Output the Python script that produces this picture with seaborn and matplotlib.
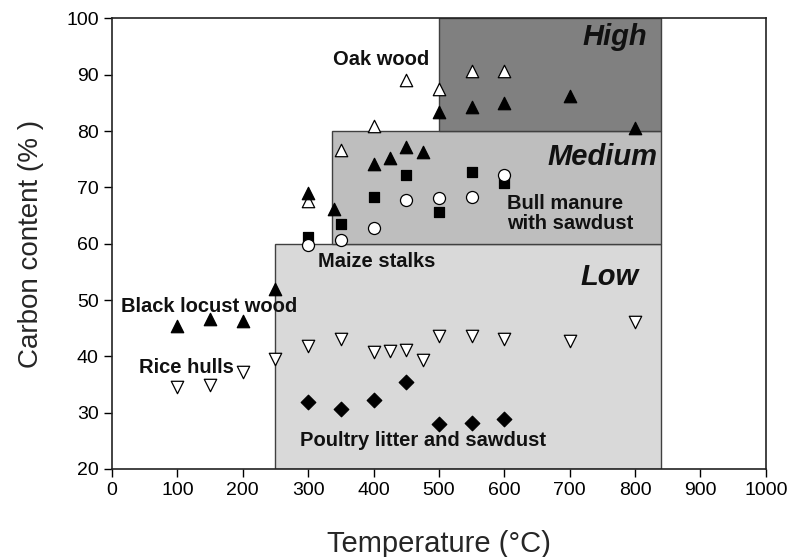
import pandas as pd
import seaborn as sns
import matplotlib.pyplot as plt
from matplotlib.patches import Rectangle

# oak wood (open up-triangles)
oak_t = [300, 350, 400, 450, 500, 550, 600]
oak_c = [67.5, 76.6, 80.9, 89.0, 87.4, 90.6, 90.6]

# black locust wood (filled up-triangles)
locust_t = [100, 150, 200, 250, 300, 340, 400, 425, 450, 475, 500, 550, 600, 700, 800]
locust_c = [45.4, 46.7, 46.3, 51.9, 69.0, 66.2, 74.2, 75.3, 77.2, 76.3, 83.4, 84.2, 85.0, 86.2, 80.5]

# bull manure with sawdust (filled squares)
bull_t = [300, 350, 400, 450, 500, 550, 600]
bull_c = [61.1, 63.5, 68.3, 72.2, 65.6, 72.8, 70.8]

# maize stalks (open circles)
maize_t = [300, 350, 400, 450, 500, 550, 600]
maize_c = [59.7, 60.6, 62.7, 67.7, 68.1, 68.2, 72.2]

# rice hulls (open down-triangles)
rice_t = [100, 150, 200, 250, 300, 350, 400, 425, 450, 475, 500, 550, 600, 700, 800]
rice_c = [34.6, 34.9, 37.2, 39.6, 41.8, 43.0, 40.8, 41.0, 41.1, 39.3, 43.6, 43.6, 43.0, 42.8, 46.1]

# poultry litter and sawdust (filled diamonds)
poultry_t = [300, 350, 400, 450, 500, 550, 600]
poultry_c = [31.9, 30.6, 32.2, 35.5, 28.0, 28.2, 28.8]

# zones
zone_names = ['Low', 'Medium', 'High']
zone_x = [(250, 840), (337, 840), (500, 840)]
zone_y = [(20, 60), (60, 80), (80, 100)]
zone_col = ['#d9d9d9', '#bebebe', '#808080']

sns.set_style('ticks')
plt.rcParams['font.family'] = ['Liberation Sans', 'DejaVu Sans']

fig, ax = plt.subplots(figsize=(7.92, 5.57), dpi=100)
fig.subplots_adjust(left=0.1414, right=0.967, top=0.967, bottom=0.158)

for (x0, x1), (y0, y1), c in zip(zone_x, zone_y, zone_col):
    ax.add_patch(Rectangle((x0, y0), x1 - x0, y1 - y0, facecolor=c,
                           edgecolor='#404040', lw=1.0, zorder=1))

def pts(t, c):
    return pd.DataFrame({'T': t, 'C': c})

sns.scatterplot(data=pts(oak_t, oak_c), x='T', y='C', marker='^', s=80,
                facecolor='white', edgecolor='black', linewidth=0.9, ax=ax, zorder=3)
sns.scatterplot(data=pts(locust_t, locust_c), x='T', y='C', marker='^', s=80,
                color='black', edgecolor='black', linewidth=0.9, ax=ax, zorder=3)
sns.scatterplot(data=pts(bull_t, bull_c), x='T', y='C', marker='s', s=60,
                color='black', edgecolor='black', linewidth=0.9, ax=ax, zorder=3)
sns.scatterplot(data=pts(maize_t, maize_c), x='T', y='C', marker='o', s=75,
                facecolor='white', edgecolor='black', linewidth=0.9, ax=ax, zorder=3)
sns.scatterplot(data=pts(rice_t, rice_c), x='T', y='C', marker='v', s=80,
                facecolor='white', edgecolor='black', linewidth=0.9, ax=ax, zorder=3)
sns.scatterplot(data=pts(poultry_t, poultry_c), x='T', y='C', marker='D', s=55,
                color='black', edgecolor='black', linewidth=0.9, ax=ax, zorder=3)

ax.set_xlim(0, 1000)
ax.set_ylim(20, 100)
ax.set_xticks(range(0, 1001, 100))
ax.set_yticks(range(20, 101, 10))
ax.tick_params(labelsize=14, length=6, width=1, direction='out', colors='black')
ax.set_xlabel('Temperature (°C)', fontsize=21, labelpad=22)
ax.set_ylabel('Carbon content (% )', fontsize=20, labelpad=16)
for s in ax.spines.values():
    s.set_linewidth(1.2)
    s.set_color('#222222')

# zone labels
zone_lx = [805, 835, 818]
zone_ly = [54.1, 75.4, 96.7]
for n, x, y in zip(zone_names, zone_lx, zone_ly):
    ax.text(x, y, n, fontsize=21, fontweight='bold', style='italic',
            ha='right', va='center', color='#111111', zorder=4)

# feedstock labels
feed_names = ['Oak wood', 'Black locust wood', 'Rice hulls', 'Maize stalks',
              'Poultry litter and sawdust']
feed_x = [412, 148, 114, 405, 475]
feed_y = [92.7, 48.9, 38.1, 56.8, 25.0]
for n, x, y in zip(feed_names, feed_x, feed_y):
    ax.text(x, y, n, fontsize=14.5, fontweight='bold', ha='center', va='center',
            color='#111111', zorder=4)
ax.text(604, 65.35, 'Bull manure\nwith sawdust', fontsize=14.5, fontweight='bold',
        ha='left', va='center', color='#111111', linespacing=1.1, zorder=4)

fig.savefig('out.png', dpi=100)
